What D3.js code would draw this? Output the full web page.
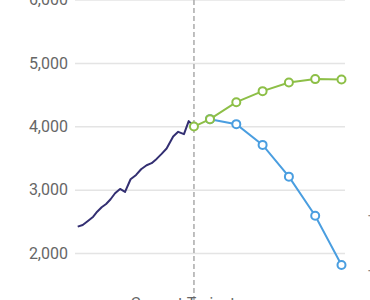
<!DOCTYPE html>
<html>
<head>
<meta charset="utf-8">
<script src="https://cdn.jsdelivr.net/npm/d3@7"></script>
<style>
  html, body { margin: 0; padding: 0; background: #fff; }
  #viz { width: 370px; height: 300px; overflow: hidden; }
  text { font-family: Roboto, "Noto Sans", sans-serif; }
</style>
</head>
<body>
<div id="viz"></div>
<script>
// historical series (year, value)
var histYears = [2019.97, 2020.16, 2020.37, 2020.56, 2020.71, 2020.88, 2021.05, 2021.22,
  2021.39, 2021.58, 2021.77, 2021.98, 2022.19, 2022.38, 2022.59, 2022.78, 2022.97,
  2023.16, 2023.35, 2023.60, 2023.79, 2024.01, 2024.19, 2024.39];
var histValues = [2416, 2442, 2510, 2573, 2652, 2722, 2774, 2848, 2943, 3011, 2964, 3164,
  3232, 3322, 3385, 3417, 3485, 3564, 3648, 3837, 3912, 3875, 4081, 3995];

// projections
var projYears = [2024.39, 2025, 2026, 2027, 2028, 2029, 2030];
var greenValues = [3995, 4112, 4380, 4554, 4690, 4744, 4738];
var blueYears = [2025, 2026, 2027, 2028, 2029, 2030];
var blueValues = [4112, 4033, 3706, 3205, 2589, 1810];

var yTicks = [2000, 3000, 4000, 5000, 6000];
var currentYear = 2024.39;
var currentLabel = "Current Trajectory";
var rightLabels = ["T", "T"];

var width = 370, height = 300;

var svg = d3.select("#viz").append("svg")
  .attr("width", width)
  .attr("height", height);

var x = d3.scaleLinear()
  .domain([2025, 2030])
  .range([210, 341.5]);

var y = d3.scaleLinear()
  .domain([2000, 6000])
  .range([253, -0.5]);

// gridlines + labels
var yAxis = d3.axisLeft(y)
  .tickValues(yTicks)
  .tickSize(-270)
  .tickPadding(7)
  .tickFormat(d3.format(","));

var gy = svg.append("g")
  .attr("transform", "translate(75,0)")
  .call(yAxis);
gy.select(".domain").remove();
gy.selectAll(".tick line")
  .attr("stroke", "#e4e4e4")
  .attr("stroke-width", 1.5);
gy.selectAll(".tick text")
  .attr("fill", "#666")
  .style("font-size", "16px");

// current marker
svg.append("line")
  .attr("x1", x(currentYear)).attr("x2", x(currentYear))
  .attr("y1", 0).attr("y2", height)
  .attr("stroke", "#aaa")
  .attr("stroke-width", 1.5)
  .attr("stroke-dasharray", "5,3");

svg.append("text")
  .attr("x", x(currentYear))
  .attr("y", 308.5)
  .attr("text-anchor", "middle")
  .attr("fill", "#666")
  .style("font-size", "16px")
  .text(currentLabel);

svg.selectAll(".rlabel")
  .data(rightLabels)
  .enter().append("text")
  .attr("class", "rlabel")
  .attr("x", 368)
  .attr("y", function(d, i) { return i == 0 ? 227 : 281.5; })
  .attr("fill", "#888")
  .style("font-size", "16px")
  .text(function(d) { return d; });

var line = d3.line()
  .x(function(d) { return x(d[0]); })
  .y(function(d) { return y(d[1]); });

var hist = d3.zip(histYears, histValues);
var green = d3.zip(projYears, greenValues);
var blue = d3.zip(blueYears, blueValues);

svg.append("path")
  .datum(hist)
  .attr("fill", "none")
  .attr("stroke", "#332f72")
  .attr("stroke-width", 2)
  .attr("stroke-linejoin", "round")
  .attr("d", line);

function drawSeries(data, color) {
  svg.append("path")
    .datum(data)
    .attr("fill", "none")
    .attr("stroke", color)
    .attr("stroke-width", 2)
    .attr("d", line);
  svg.append("g").selectAll("circle")
    .data(data)
    .enter().append("circle")
    .attr("cx", function(d) { return x(d[0]); })
    .attr("cy", function(d) { return y(d[1]); })
    .attr("r", 4)
    .attr("fill", "#fff")
    .attr("stroke", color)
    .attr("stroke-width", 2);
}

drawSeries(blue, "#4a9ee0");
drawSeries(green, "#8dbf47");
</script>
</body>
</html>
